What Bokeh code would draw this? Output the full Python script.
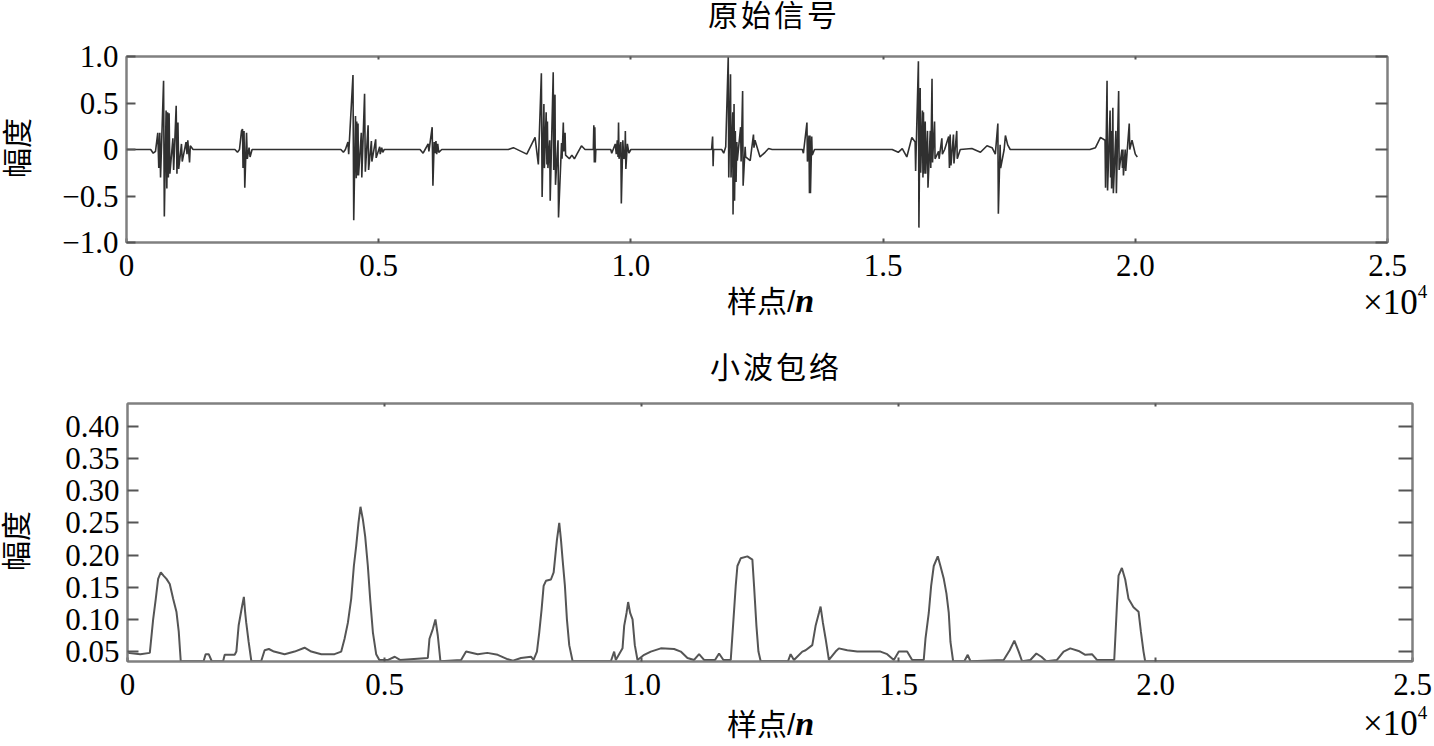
from bokeh.plotting import figure
from bokeh.models import FixedTicker, LinearAxis, Range1d, Div
from bokeh.layouts import column, row
from bokeh.embed import file_html
from bokeh.resources import INLINE

# ---------------- data ----------------
titles = ["原始信号", "小波包络"]
x_label_cjk = "样点/"
x_label_var = "n"
x_scale_base = "\u00d710"
x_scale_exp = "4"
y_label = "幅度"

x_ticks = [0, 5000, 10000, 15000, 20000, 25000]
x_tick_labels = ["0", "0.5", "1.0", "1.5", "2.0", "2.5"]

sig_y_ticks = [-1.0, -0.5, 0.0, 0.5, 1.0]
sig_y_tick_labels = ["\u22121.0", "\u22120.5", "0", "0.5", "1.0"]

env_y_ticks = [0.05, 0.10, 0.15, 0.20, 0.25, 0.30, 0.35, 0.40]
env_y_tick_labels = ["0.05", "0.10", "0.15", "0.20", "0.25", "0.30", "0.35", "0.40"]

# original signal (sample index, amplitude)
sig_x = [0, 480, 530, 575, 620, 640, 660, 675, 735, 750, 785, 800, 815, 830,
         845, 860, 920, 935, 985, 1000, 1020, 1035, 1090, 1105, 1180, 1200, 1215,
         1250, 1265, 1320,
         2150, 2200, 2240, 2280, 2300, 2310, 2330, 2345, 2380, 2395, 2430, 2450, 2490,
         4250, 4300, 4340, 4390, 4405, 4490, 4505, 4540, 4555, 4565, 4575,
         4590, 4600, 4655, 4665, 4720, 4735, 4790, 4800, 4855, 4865, 4940, 4950,
         5020, 5030, 5060, 5080, 5110,
         5820, 5880, 5920, 5980, 5995, 6060, 6075, 6100, 6115, 6135, 6150,
         6170, 6190, 6250,
         7570, 7670, 7936, 8100, 8165, 8225, 8240, 8275, 8285, 8320, 8335,
         8345, 8355, 8390, 8400, 8460, 8470, 8495, 8505, 8555, 8565, 8625, 8635,
         8660, 8670, 8695, 8705, 8780, 8830, 8880, 8930, 9020, 9090,
         9255, 9265, 9275, 9285, 9295, 9305,
         9600, 9620, 9690, 9710, 9730, 9745, 9755, 9765, 9800, 9810, 9840, 9860,
         9880, 9890, 9900, 9930, 9960, 10000,
         11600, 11620, 11630, 11640,
         11800, 11840, 11880, 11930, 11940, 11975, 11985, 12020, 12025, 12045, 12055,
         12070, 12085, 12100, 12110, 12175, 12185, 12215, 12225, 12265, 12275, 12365,
         12430, 12440, 12460, 12560, 12660, 12730, 12800,
         13400, 13420, 13490, 13500, 13530, 13540, 13550, 13560, 13585, 13595, 13640,
         15180, 15300, 15380, 15470, 15570, 15635, 15645, 15700, 15710, 15735, 15745,
         15780, 15790, 15800, 15810, 15835, 15845, 15880, 15890, 15935, 15945, 15970, 15980,
         16020, 16030, 16100, 16110, 16165, 16175, 16220, 16300, 16315, 16330, 16345,
         16395, 16405, 16460, 16470, 16530, 16760, 16930, 17060, 17160, 17225, 17275, 17285,
         17320, 17330, 17400, 17425, 17470, 17520,
         19100, 19210, 19310, 19400, 19410, 19440, 19450, 19500, 19510, 19520, 19530,
         19555, 19565, 19615, 19625, 19670, 19680, 19735, 19745, 19755, 19765, 19800, 19810,
         19880, 19890, 19935, 20000, 20040]
sig_y = [0.0, 0.0, -0.04, -0.02, 0.18, -0.20, 0.18, -0.30, 0.74, -0.72, 0.42, -0.42, 0.40, -0.30,
         0.39, -0.26, 0.12, -0.22, 0.47, -0.26, 0.29, -0.21, 0.06, -0.13, 0.08, -0.05, 0.10,
         -0.14, 0.04, 0.0,
         0.0, -0.03, 0.0, 0.20, 0.22, -0.20, 0.20, -0.41, 0.18, -0.10, 0.02, -0.08, 0.0,
         0.0, -0.03, 0.0, 0.08, -0.05, 0.80, -0.76, 0.36, -0.31, 0.30, -0.28,
         0.28, -0.28, 0.18, -0.30, 0.60, -0.24, 0.26, -0.22, 0.09, -0.13, 0.11, -0.09,
         0.03, -0.05, 0.02, -0.03, 0.0,
         0.0, -0.04, 0.0, 0.06, -0.02, 0.24, -0.39, 0.08, -0.04, 0.09, -0.05,
         0.06, -0.03, 0.0,
         0.0, 0.02, -0.05, 0.13, -0.16, 0.82, -0.51, 0.49, -0.20, 0.40, -0.16,
         0.30, -0.20, 0.10, -0.55, 0.83, -0.22, 0.59, -0.38, 0.10, -0.73, 0.07, -0.10,
         0.29, -0.02, 0.18, -0.06, -0.10, -0.06, -0.10, -0.05, 0.04, 0.0,
         0.0, 0.26, -0.14, 0.24, -0.14, 0.0,
         0.0, -0.04, 0.06, -0.05, 0.10, -0.08, 0.29, -0.10, 0.08, -0.58, 0.10, -0.10,
         -0.08, 0.20, -0.21, 0.06, -0.04, 0.0,
         0.0, 0.14, -0.18, 0.0,
         0.0, -0.04, 0.03, 1.0, -0.30, 0.81, -0.30, 0.40, -0.70, 0.49, -0.55,
         0.20, -0.35, 0.08, -0.12, 0.24, -0.13, 0.63, -0.39, 0.03, -0.08, -0.12,
         0.16, 0.02, 0.10, -0.08, -0.03, 0.01, 0.0,
         0.0, -0.04, 0.29, -0.13, 0.15, -0.47, 0.15, -0.47, 0.14, -0.06, 0.0,
         0.0, -0.03, 0.01, -0.08, 0.13, 0.08, -0.23, 0.95, -0.84, 0.66, -0.25,
         0.42, -0.30, 0.40, -0.26, 0.30, -0.26, 0.20, -0.41, 0.20, -0.20, 0.76, -0.14,
         0.30, -0.10, -0.02, -0.10, 0.12, -0.05, 0.0, 0.14, -0.20, 0.16, -0.17,
         0.16, -0.15, 0.20, -0.10, 0.0, 0.01, -0.03, 0.04, 0.02, -0.05, 0.28, -0.69,
         0.05, -0.20, 0.0, 0.15, 0.05, 0.0,
         0.0, 0.02, 0.13, 0.10, -0.41, 0.74, -0.44, 0.42, -0.30, 0.20, -0.42,
         0.45, -0.47, 0.20, -0.47, 0.63, -0.22, 0.0, -0.20, 0.0, -0.28, 0.0, -0.23,
         0.28, 0.0, 0.10, -0.05, -0.08]

# wavelet envelope (sample index, amplitude)
env_x = [0, 250, 434, 499, 550, 596, 648, 700, 758, 822, 888, 952, 997, 1036,
         1480, 1520, 1580, 1640,
         1860, 1891, 2085, 2118, 2163, 2228, 2264, 2290, 2310, 2357, 2410,
         2600, 2668, 2750, 2850, 3057, 3251, 3445, 3575, 3770, 4028, 4158,
         4223, 4288, 4352, 4404, 4449, 4494, 4533, 4580, 4624, 4676, 4721, 4774, 4838, 4900,
         5070, 5200, 5300, 5843, 5875, 5940, 5991, 6037, 6088,
         6490, 6587, 6814, 7000, 7203, 7400, 7500, 7656, 7850, 7900,
         7966, 8011, 8057, 8096, 8141, 8238, 8291, 8316, 8355, 8400, 8433, 8465, 8510, 8549, 8594, 8660,
         9404, 9468, 9500, 9631, 9663, 9709, 9740, 9779, 9826, 9870, 9922,
         10052, 10181, 10376, 10634, 10764, 10894, 11023, 11120, 11217, 11430, 11509, 11594,
         11736, 11781, 11833, 11866, 11930, 12060, 12157, 12190, 12236, 12275, 12319,
         12850, 12901, 12966, 13129, 13193, 13323, 13387, 13452, 13484, 13529, 13582, 13646,
         13776, 13840, 14003, 14197, 14391, 14650, 14780, 14909, 15006, 15168, 15266,
         15491, 15525, 15589, 15635, 15686, 15764, 15816, 15881, 15933, 15978, 16011, 16063,
         16280, 16347, 16400,
         17046, 17163, 17254, 17338, 17404,
         17565, 17682, 17780, 17876,
         18083, 18212, 18342, 18504, 18634, 18764, 18861,
         19197, 19249, 19281, 19346, 19411, 19475, 19572, 19670, 19716, 19767, 19799,
         25000]
env_y = [0.048, 0.046, 0.048, 0.100, 0.132, 0.163, 0.173, 0.168, 0.163, 0.155, 0.132, 0.112, 0.081, 0.035,
         0.035, 0.046, 0.046, 0.035,
         0.035, 0.045, 0.045, 0.050, 0.091, 0.120, 0.135, 0.110, 0.095, 0.065, 0.035,
         0.035, 0.052, 0.054, 0.050, 0.046, 0.050, 0.056, 0.050, 0.046, 0.046, 0.050,
         0.070, 0.095, 0.132, 0.183, 0.214, 0.250, 0.275, 0.255, 0.229, 0.183, 0.132, 0.080, 0.046, 0.037,
         0.037, 0.042, 0.037, 0.040, 0.070, 0.085, 0.100, 0.075, 0.035,
         0.037, 0.050, 0.046, 0.048, 0.045, 0.038, 0.036, 0.040, 0.042, 0.037,
         0.050, 0.080, 0.116, 0.152, 0.160, 0.162, 0.173, 0.193, 0.224, 0.250, 0.224, 0.193, 0.152, 0.100, 0.060, 0.035,
         0.035, 0.050, 0.037, 0.055, 0.090, 0.110, 0.127, 0.110, 0.100, 0.060, 0.037,
         0.045, 0.050, 0.055, 0.054, 0.050, 0.040, 0.037, 0.046, 0.037, 0.037, 0.047, 0.037,
         0.037, 0.090, 0.152, 0.183, 0.195, 0.198, 0.193, 0.152, 0.090, 0.050, 0.035,
         0.035, 0.046, 0.037, 0.050, 0.052, 0.060, 0.090, 0.110, 0.120, 0.095, 0.070, 0.037,
         0.050, 0.055, 0.052, 0.050, 0.050, 0.050, 0.046, 0.037, 0.050, 0.050, 0.037,
         0.037, 0.070, 0.110, 0.152, 0.183, 0.198, 0.183, 0.163, 0.140, 0.110, 0.065, 0.035,
         0.035, 0.045, 0.035,
         0.037, 0.052, 0.067, 0.050, 0.035,
         0.037, 0.047, 0.042, 0.035,
         0.037, 0.050, 0.055, 0.051, 0.045, 0.046, 0.037,
         0.037, 0.121, 0.168, 0.180, 0.162, 0.132, 0.119, 0.112, 0.081, 0.050, 0.035,
         0.035]

# ---------------- styling ----------------
FRAME = "#808080"
TICK_FONT = "Liberation Serif"
W = 1432
YL_W = 40  # width of the strip holding the rotated y-axis caption


def style_axis(ax, ticks, labels, tick_in, show):
    ax.ticker = FixedTicker(ticks=ticks)
    ax.major_tick_in = tick_in
    ax.major_tick_out = 0
    ax.minor_tick_in = 0
    ax.minor_tick_out = 0
    ax.axis_line_color = FRAME
    ax.axis_line_width = 2
    ax.major_tick_line_color = "#555555"
    ax.major_tick_line_width = 2
    if show:
        ax.major_label_overrides = {t: l for t, l in zip(ticks, labels)}
        ax.major_label_text_font = TICK_FONT
        ax.major_label_text_font_size = "31px"
        ax.major_label_text_color = "black"
        ax.major_label_standoff = 8
    else:
        ax.major_label_overrides = {t: "" for t in ticks}
        ax.major_label_text_font_size = "1px"
        ax.major_label_standoff = 0


def make_fig(width, height, ylo, yhi, yticks, ylabels, borders, ytick_len):
    left, right, top, bottom = borders
    p = figure(width=width, height=height, output_backend="svg", toolbar_location=None,
               x_range=Range1d(0, 25000), y_range=Range1d(ylo, yhi),
               min_border_left=left, min_border_right=right,
               min_border_top=top, min_border_bottom=bottom, title=None)
    p.xgrid.visible = False
    p.ygrid.visible = False
    p.outline_line_color = FRAME
    p.outline_line_width = 2
    p.background_fill_color = "white"
    p.border_fill_color = "white"

    xa = p.xaxis[0]
    style_axis(xa, x_ticks, x_tick_labels, 4, True)
    xa.major_label_standoff = 12

    ya = p.yaxis[0]
    style_axis(ya, yticks, ylabels, ytick_len, True)

    ax_top = LinearAxis()
    style_axis(ax_top, x_ticks[1:-1], None, 3, False)
    p.add_layout(ax_top, "above")
    ax_right = LinearAxis()
    style_axis(ax_right, yticks, None, ytick_len + 3, False)
    p.add_layout(ax_right, "right")
    return p


CJK_CSS = ("font-family:'Liberation Sans','Noto Sans CJK SC';font-size:30px;"
           "line-height:30px;color:#000;white-space:nowrap;")
SERIF_CSS = "font-family:'Liberation Serif';color:#000;white-space:nowrap;"


def span_title(text, left, top):
    return (f"<div style=\"position:absolute;left:{left}px;top:{top}px;{CJK_CSS}"
            f"letter-spacing:3px;\">{text}</div>")


def span_xlabel(left, top):
    return (f"<div style=\"position:absolute;left:{left}px;top:{top}px;{CJK_CSS}\">"
            f"{x_label_cjk}<span style=\"font-family:'Liberation Serif';font-weight:bold;"
            f"font-style:italic;font-size:34px;\">{x_label_var}</span></div>")


def span_scale(left, top):
    return (f"<div style=\"position:absolute;left:{left}px;top:{top}px;{SERIF_CSS}"
            f"font-size:35px;line-height:35px;\">{x_scale_base}"
            f"<span style=\"font-size:19px;position:relative;top:-16px;\">{x_scale_exp}</span></div>")


def span_ylabel(cx, cy):
    return (f"<div style=\"position:absolute;left:{cx - 30}px;top:{cy - 15}px;width:60px;"
            f"height:30px;text-align:center;{CJK_CSS}transform:rotate(-90deg);"
            f"transform-origin:50% 50%;\">{y_label}</div>")


def text_div(width, height, parts):
    html = (f"<div style=\"position:relative;width:{width}px;height:{height}px;overflow:visible;\">"
            + "".join(parts) + "</div>")
    return Div(text=html, width=width, height=height, margin=0)


# ---------------- layout ----------------
d1 = text_div(W, 40, [span_title(titles[0], 708, 1)])

p1 = make_fig(W - YL_W, 250, -1.0, 1.0, sig_y_ticks, sig_y_tick_labels,
              (126 - YL_W, W - 1387, 16, 48), 9)
p1.line(sig_x, sig_y, line_color="#303030", line_width=1.6)
y1 = text_div(YL_W, 250, [span_ylabel(18, 108)])

d2 = text_div(W, 108, [span_xlabel(727, -4), span_scale(1363, -5),
                       span_title(titles[1], 710, 63)])

p2 = make_fig(W - YL_W, 312, 0.0346, 0.4355, env_y_ticks, env_y_tick_labels,
              (127 - YL_W, W - 1412, 5, 49), 11)
p2.line(env_x, env_y, line_color="#555555", line_width=2)
y2 = text_div(YL_W, 312, [span_ylabel(17, 143)])

d3 = text_div(W, 34, [span_xlabel(727, -1), span_scale(1363, -4)])

layout = column(d1, row(y1, p1), d2, row(y2, p2), d3)
open("out.html", "w").write(file_html(layout, INLINE))
